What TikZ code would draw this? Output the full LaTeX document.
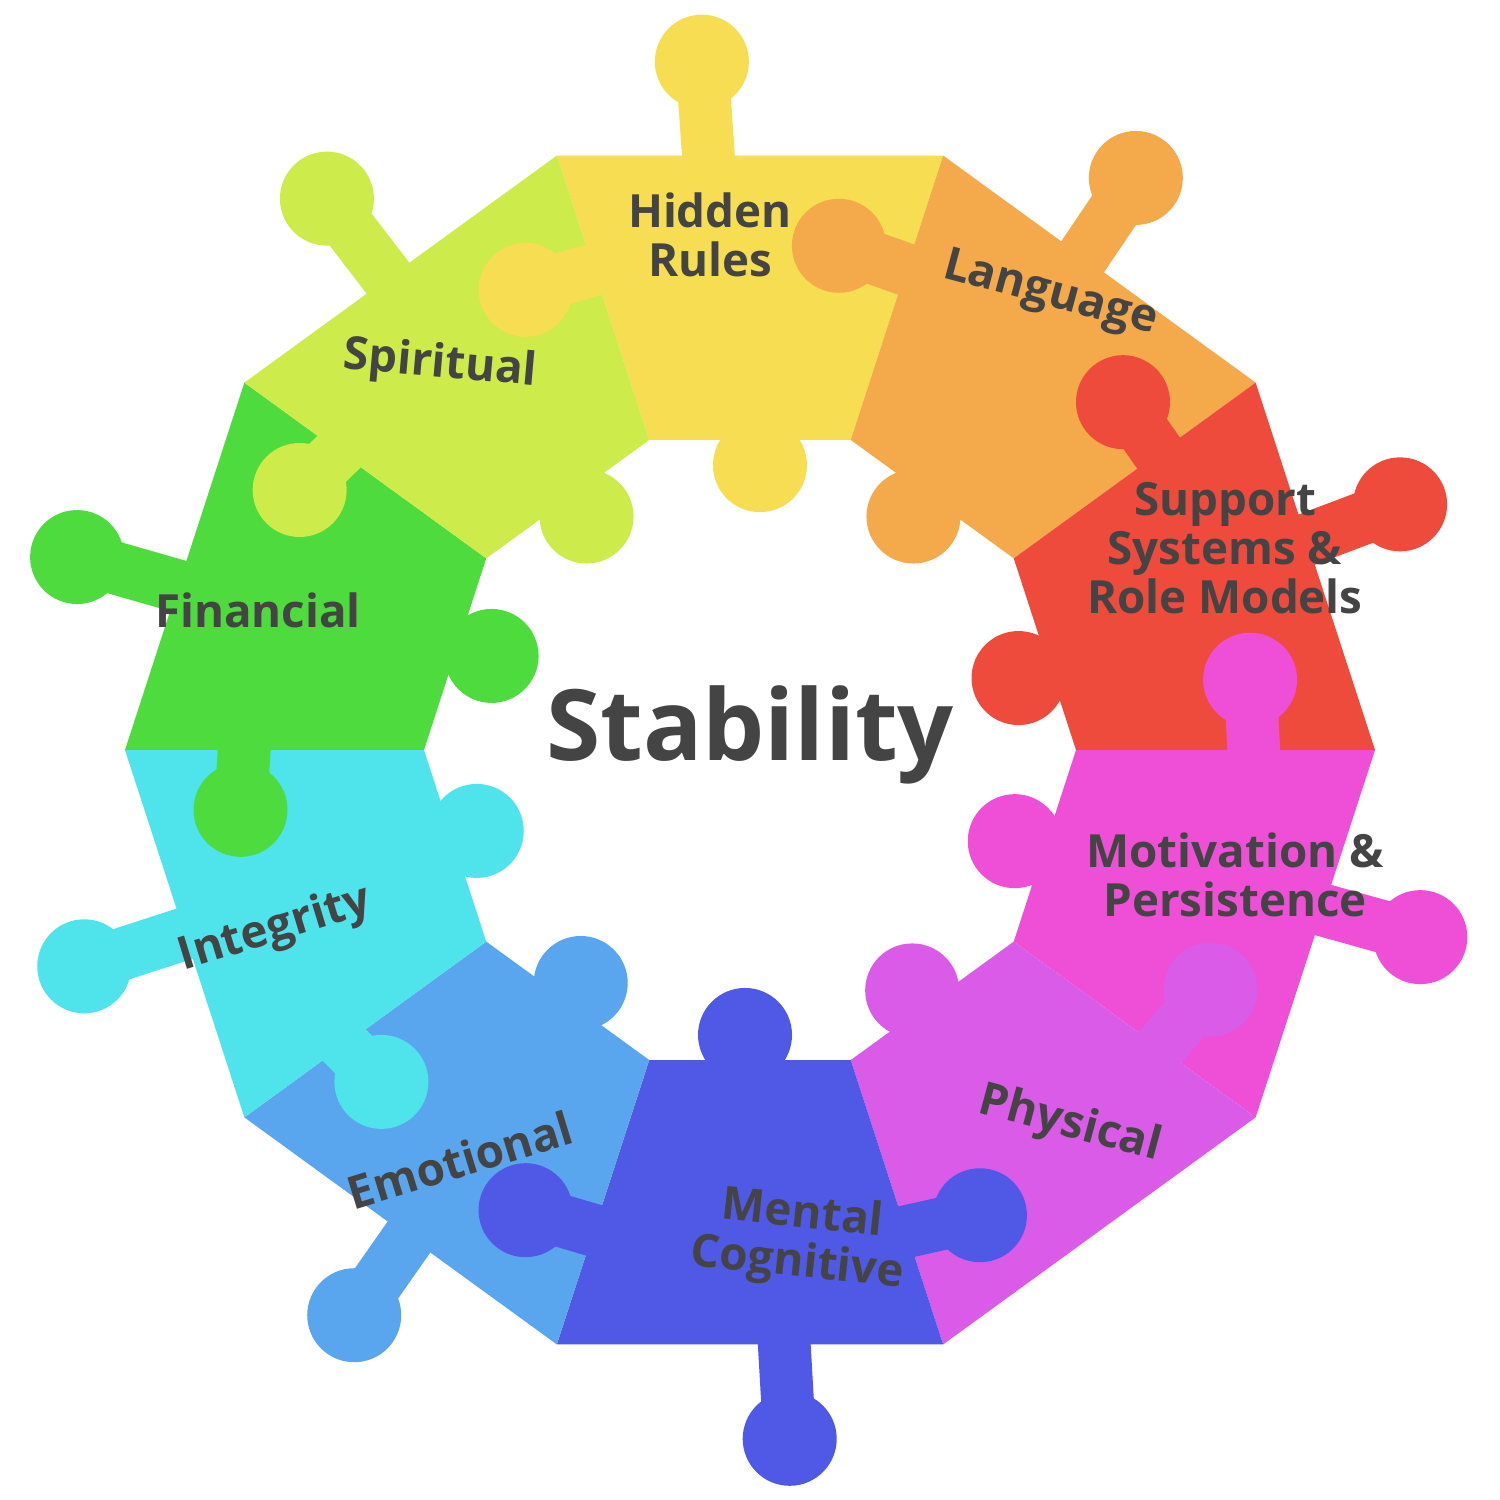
\documentclass[tikz,border=0pt]{standalone}
\usepackage{fontspec}
\setmainfont{Open Sans}
\definecolor{cHR}{HTML}{F7DD52}
\definecolor{cLA}{HTML}{F4A94A}
\definecolor{cSU}{HTML}{EE4B3C}
\definecolor{cMO}{HTML}{EE4FD6}
\definecolor{cPH}{HTML}{D95BE8}
\definecolor{cME}{HTML}{5058E6}
\definecolor{cEM}{HTML}{5AA6EE}
\definecolor{cIN}{HTML}{4FE3EC}
\definecolor{cFI}{HTML}{4EDB3E}
\definecolor{cSP}{HTML}{CDEB4A}
\definecolor{txt}{HTML}{444444}
\tikzset{lbl/.style={text=txt,font=\bfseries\fontsize{13}{14}\selectfont,align=center,inner sep=1pt}}
\newcommand{\piece}[2]{%
  \fill[#2] ({#1-18}:625) -- ({#1+18}:625) -- ({#1+18}:326) -- ({#1-18}:326) -- cycle;}
\newcommand{\tab}[5]{% color, neck angle, neck r, tab angle, tab r
  \draw[#1,line width=15pt] (#2:#3) -- (#4:#5);
  \fill[#1] (#4:#5) circle (47);}
\begin{document}
\begin{tikzpicture}[x=0.01cm,y=0.01cm]
\useasboundingbox (-750,-750) rectangle (750,750);
\fill[white] (-750,-750) rectangle (750,750);
\piece{90}{cHR}\piece{54}{cLA}\piece{18}{cSU}\piece{-18}{cMO}\piece{-54}{cPH}
\piece{-90}{cME}\piece{-126}{cEM}\piece{-162}{cIN}\piece{162}{cFI}\piece{126}{cSP}
% outer tabs
\tab{cHR}{94}{580}{94}{690}
\tab{cLA}{56}{580}{56}{690}
\tab{cSU}{20.7}{580}{20.7}{695}
\tab{cMO}{-15.6}{580}{-15.6}{696}
\tab{cME}{-86.7}{580}{-86.7}{690}
\tab{cEM}{-125}{580}{-125}{690}
\tab{cIN}{198}{580}{198}{700}
\tab{cFI}{164}{580}{164}{700}
\tab{cSP}{127.5}{580}{127.5}{695}
% inner tabs
\tab{cHR}{88}{345}{88}{285}
\tab{cLA}{55}{345}{55}{285}
\tab{cSU}{15}{345}{15}{278}
\tab{cMO}{-19}{345}{-19}{280}
\tab{cPH}{-56}{345}{-56}{290}
\tab{cME}{-91}{345}{-91}{285}
\tab{cEM}{-126}{345}{-126}{288}
\tab{cIN}{196.5}{345}{196.5}{285}
\tab{cFI}{160}{345}{160}{275}
\tab{cSP}{125}{345}{125}{285}
% side tabs
\tab{cHR}{106}{505}{116}{512}
\tab{cLA}{70}{505}{80}{512}
\tab{cSU}{34}{505}{43}{510}
\tab{cMO}{-2}{505}{8}{505}
\tab{cPH}{-38}{505}{-27.5}{519}
\tab{cME}{-74}{505}{-63.7}{519}
\tab{cME}{-106}{505}{-116}{512}
\tab{cIN}{-146}{505}{-138}{496}
\tab{cFI}{178}{505}{186.7}{513}
\tab{cSP}{142}{505}{150}{520}
% labels
\node[lbl] (hr) at (-40,515) {Hidden\\Rules};
\node[lbl,rotate=-15] (la) at (300,455) {Language};
\node[lbl] (su) at (475,202) {Support\\Systems \&\\Role Models};
\node[lbl] (mo) at (485,-125) {Motivation \&\\Persistence};
\node[lbl,rotate=-15] (ph) at (320,-375) {Physical};
\node[lbl,rotate=-6] (me) at (50,-490) {Mental\\Cognitive};
\node[lbl,rotate=17] (em) at (-290,-410) {Emotional};
\node[lbl,rotate=17] (in) at (-475,-180) {Integrity};
\node[lbl] (fi) at (-492,140) {Financial};
\node[lbl,rotate=-5] (sp) at (-310,385) {Spiritual};
\node[text=txt,font=\bfseries\fontsize{28}{30}\selectfont] (st) at (0,15) {Stability};
\end{tikzpicture}
\end{document}
